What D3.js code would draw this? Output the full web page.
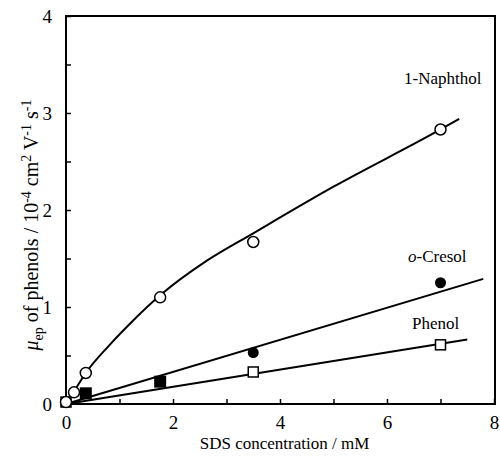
<!DOCTYPE html>
<html>
<head>
<meta charset="utf-8">
<script src="https://cdn.jsdelivr.net/npm/d3@7"></script>
<style>
  html, body { margin: 0; padding: 0; background: #fff; }
  svg { display: block; }
  svg text { font-family: "Liberation Serif", "DejaVu Serif", serif; fill: #000; }
</style>
</head>
<body>
<svg id="chart" width="500" height="458"></svg>
<script>
// SDS concentration (mM) and electrophoretic mobility (10^-4 cm^2 V^-1 s^-1)
const naphtholX = [0, 0.15, 0.37, 1.76, 3.5, 7.0];
const naphtholY = [0.02, 0.12, 0.32, 1.1, 1.67, 2.83];

const cresolX = [0.37, 1.76, 3.5, 7.0];
const cresolY = [0.11, 0.23, 0.53, 1.25];
const cresolShape = ["square", "square", "circle", "circle"];

const phenolX = [0, 3.5, 7.0];
const phenolY = [0.02, 0.33, 0.61];

// fitted curve / lines
const naphtholFitX = [0, 0.15, 0.37, 0.8, 1.2, 1.76, 2.64, 3.5, 5.0, 7.0, 7.35];
const naphtholFitY = [0, 0.13, 0.32, 0.6, 0.83, 1.12, 1.48, 1.76, 2.24, 2.83, 2.94];
const cresolFitX = [0, 7.8];
const cresolFitY = [0, 1.29];
const phenolFitX = [0, 7.5];
const phenolFitY = [0, 0.665];

const xTicks = [0, 2, 4, 6, 8];
const xMinorTicks = [1, 3, 5, 7];
const yTicks = [0, 1, 2, 3, 4];
const yMinorTicks = [0.5, 1.5, 2.5, 3.5];

const SERIF = "'Liberation Serif', 'DejaVu Serif', serif";

const svg = d3.select("#chart");
const m = { left: 66, right: 495, top: 16, bottom: 404 };

const x = d3.scaleLinear().domain([0, 8]).range([m.left, 494]);
const y = d3.scaleLinear().domain([0, 4]).range([m.bottom, m.top]);

// frame
svg.append("rect")
  .attr("x", m.left).attr("y", m.top)
  .attr("width", m.right - m.left).attr("height", m.bottom - m.top)
  .attr("fill", "none").attr("stroke", "#000").attr("stroke-width", 2);

// axes with inward ticks
const fmt = d3.format("d");
const xAxis = d3.axisBottom(x).tickValues(xTicks).tickFormat(fmt)
  .tickSizeInner(-5).tickSizeOuter(0).tickPadding(12);
const gx = svg.append("g").attr("transform", `translate(0,${m.bottom})`).call(xAxis)
  .attr("font-family", SERIF).attr("font-size", 19);
gx.select(".domain").remove();

svg.append("g").attr("transform", `translate(0,${m.bottom})`)
  .call(d3.axisBottom(x).tickValues(xMinorTicks).tickSizeInner(-5).tickSizeOuter(0).tickFormat(""))
  .select(".domain").remove();

const yAxis = d3.axisLeft(y).tickValues(yTicks).tickFormat(fmt)
  .tickSizeInner(-5).tickSizeOuter(0).tickPadding(14);
const gy = svg.append("g").attr("transform", `translate(${m.left},0)`).call(yAxis)
  .attr("font-family", SERIF).attr("font-size", 19);
gy.select(".domain").remove();

svg.append("g").attr("transform", `translate(${m.left},0)`)
  .call(d3.axisLeft(y).tickValues(yMinorTicks).tickSizeInner(-5).tickSizeOuter(0).tickFormat(""))
  .select(".domain").remove();

svg.selectAll(".tick line").attr("stroke", "#000").attr("stroke-width", 1.5);

// axis titles
svg.append("text")
  .attr("x", (m.left + m.right) / 2 + 4).attr("y", 449)
  .attr("text-anchor", "middle").attr("font-size", 17)
  .text("SDS concentration / mM");

const yt = svg.append("text")
  .attr("transform", `translate(38,225) rotate(-90)`)
  .attr("text-anchor", "middle").attr("font-size", 20);
yt.append("tspan").attr("font-style", "italic").text("μ");
yt.append("tspan").attr("font-size", 14).attr("baseline-shift", "-5").text("ep");
yt.append("tspan").text(" of phenols / 10");
yt.append("tspan").attr("font-size", 14).attr("baseline-shift", "7").text("-4");
yt.append("tspan").text(" cm");
yt.append("tspan").attr("font-size", 14).attr("baseline-shift", "7").text("2");
yt.append("tspan").text(" V");
yt.append("tspan").attr("font-size", 14).attr("baseline-shift", "7").text("-1");
yt.append("tspan").text(" s");
yt.append("tspan").attr("font-size", 14).attr("baseline-shift", "7").text("-1");

// fit lines
const drawFit = (xs, ys, curve) => svg.append("path")
  .datum(d3.zip(xs, ys))
  .attr("d", d3.line().x(d => x(d[0])).y(d => y(d[1])).curve(curve))
  .attr("fill", "none").attr("stroke", "#000").attr("stroke-width", 2);

drawFit(naphtholFitX, naphtholFitY, d3.curveMonotoneX);
drawFit(cresolFitX, cresolFitY, d3.curveLinear);
drawFit(phenolFitX, phenolFitY, d3.curveLinear);

// markers
const sq = 10;
svg.append("g").selectAll("rect").data(d3.zip(phenolX, phenolY)).join("rect")
  .attr("x", d => x(d[0]) - sq / 2).attr("y", d => y(d[1]) - sq / 2)
  .attr("width", sq).attr("height", sq)
  .attr("fill", "#fff").attr("stroke", "#000").attr("stroke-width", 1.5);

const cres = d3.zip(cresolX, cresolY, cresolShape);
svg.append("g").selectAll("rect").data(cres.filter(d => d[2] === "square")).join("rect")
  .attr("x", d => x(d[0]) - 6).attr("y", d => y(d[1]) - 6)
  .attr("width", 12).attr("height", 12).attr("fill", "#000");
svg.append("g").selectAll("circle").data(cres.filter(d => d[2] === "circle")).join("circle")
  .attr("cx", d => x(d[0])).attr("cy", d => y(d[1])).attr("r", 5.5).attr("fill", "#000");

svg.append("g").selectAll("circle").data(d3.zip(naphtholX, naphtholY)).join("circle")
  .attr("cx", d => x(d[0])).attr("cy", d => y(d[1])).attr("r", 5.5)
  .attr("fill", "#fff").attr("stroke", "#000").attr("stroke-width", 1.5);

// series labels
svg.append("text").attr("x", 404).attr("y", 84).attr("font-size", 17).text("1-Naphthol");
const cl = svg.append("text").attr("x", 408).attr("y", 262).attr("font-size", 17);
cl.append("tspan").attr("font-style", "italic").text("o");
cl.append("tspan").text("-Cresol");
svg.append("text").attr("x", 412).attr("y", 329).attr("font-size", 17).text("Phenol");
</script>
</body>
</html>
